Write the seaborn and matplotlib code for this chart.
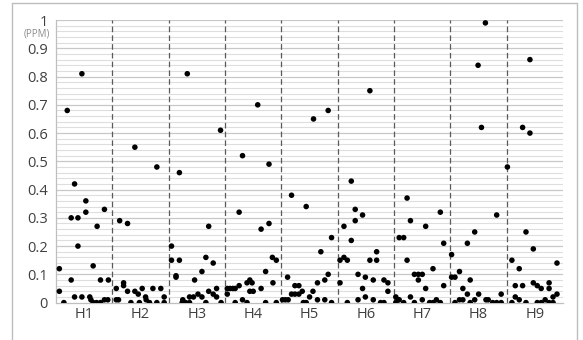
import matplotlib
matplotlib.use("Agg")
import matplotlib.pyplot as plt
from matplotlib.lines import Line2D
import numpy as np
import pandas as pd
import seaborn as sns

# Sites and their measured concentrations (ppm); each pair is
# (sample position within the site's band, value)
groups = ["H1", "H2", "H3", "H4", "H5", "H6", "H7", "H8", "H9"]

h1 = [(0.06, 0.12), (0.06, 0.04), (0.14, 0.0), (0.20, 0.68), (0.27, 0.30), (0.27, 0.08),
      (0.33, 0.42), (0.33, 0.02), (0.39, 0.30), (0.39, 0.20), (0.46, 0.81), (0.46, 0.02),
      (0.53, 0.36), (0.53, 0.32), (0.60, 0.02), (0.62, 0.01), (0.66, 0.13), (0.66, 0.0),
      (0.72, 0.0), (0.73, 0.27), (0.79, 0.0), (0.79, 0.08), (0.86, 0.33), (0.86, 0.01),
      (0.92, 0.01), (0.93, 0.08)]
h2 = [(0.07, 0.05), (0.07, 0.01), (0.11, 0.01), (0.13, 0.29), (0.20, 0.07), (0.20, 0.06),
      (0.27, 0.28), (0.27, 0.04), (0.33, 0.0), (0.40, 0.55), (0.40, 0.04), (0.46, 0.03),
      (0.48, 0.0), (0.53, 0.05), (0.59, 0.02), (0.60, 0.01), (0.66, 0.0), (0.72, 0.05),
      (0.79, 0.48), (0.79, 0.0), (0.86, 0.05), (0.92, 0.02), (0.92, 0.0)]
h3 = [(0.05, 0.20), (0.05, 0.15), (0.13, 0.095), (0.13, 0.09), (0.19, 0.46), (0.19, 0.15),
      (0.24, 0.0), (0.25, 0.01), (0.30, 0.0), (0.33, 0.81), (0.37, 0.02), (0.37, 0.0),
      (0.44, 0.02), (0.46, 0.08), (0.52, 0.03), (0.59, 0.02), (0.59, 0.11), (0.66, 0.16),
      (0.66, 0.0), (0.71, 0.27), (0.71, 0.04), (0.79, 0.14), (0.79, 0.03), (0.85, 0.05),
      (0.85, 0.02), (0.92, 0.61), (0.93, 0.0)]
h4 = [(0.04, 0.05), (0.04, 0.03), (0.09, 0.05), (0.14, 0.05), (0.18, 0.05), (0.18, 0.0),
      (0.25, 0.32), (0.25, 0.06), (0.31, 0.52), (0.31, 0.01), (0.39, 0.07), (0.39, 0.0),
      (0.44, 0.08), (0.44, 0.04), (0.48, 0.07), (0.50, 0.04), (0.58, 0.70), (0.64, 0.26),
      (0.64, 0.05), (0.72, 0.11), (0.72, 0.0), (0.78, 0.49), (0.78, 0.28), (0.84, 0.16),
      (0.85, 0.07), (0.91, 0.15), (0.91, 0.0)]
h5 = [(0.02, 0.01), (0.07, 0.01), (0.11, 0.09), (0.12, 0.01), (0.18, 0.38), (0.18, 0.03),
      (0.24, 0.06), (0.24, 0.03), (0.31, 0.06), (0.31, 0.03), (0.37, 0.04), (0.39, 0.0),
      (0.44, 0.34), (0.44, 0.0), (0.50, 0.02), (0.56, 0.04), (0.57, 0.65), (0.64, 0.07),
      (0.64, 0.01), (0.70, 0.18), (0.77, 0.08), (0.77, 0.01), (0.83, 0.68), (0.83, 0.10),
      (0.89, 0.23), (0.89, 0.0)]
h6 = [(0.04, 0.15), (0.04, 0.07), (0.11, 0.27), (0.11, 0.16), (0.17, 0.15), (0.17, 0.0),
      (0.24, 0.43), (0.24, 0.22), (0.31, 0.33), (0.31, 0.29), (0.36, 0.10), (0.36, 0.01),
      (0.44, 0.31), (0.44, 0.05), (0.49, 0.09), (0.49, 0.02), (0.57, 0.75), (0.57, 0.15),
      (0.63, 0.08), (0.63, 0.01), (0.69, 0.18), (0.69, 0.15), (0.76, 0.0), (0.82, 0.08),
      (0.82, 0.0), (0.89, 0.07), (0.89, 0.04)]
h7 = [(0.03, 0.02), (0.03, 0.0), (0.07, 0.01), (0.09, 0.23), (0.09, 0.01), (0.17, 0.23),
      (0.17, 0.0), (0.23, 0.37), (0.23, 0.15), (0.29, 0.29), (0.29, 0.02), (0.36, 0.10),
      (0.36, 0.0), (0.43, 0.10), (0.43, 0.08), (0.50, 0.10), (0.50, 0.01), (0.56, 0.27),
      (0.56, 0.05), (0.63, 0.0), (0.69, 0.12), (0.69, 0.0), (0.75, 0.01), (0.82, 0.32),
      (0.82, 0.0), (0.88, 0.21), (0.88, 0.06)]
h8 = [(0.02, 0.17), (0.02, 0.09), (0.08, 0.09), (0.08, 0.0), (0.16, 0.11), (0.16, 0.01),
      (0.22, 0.05), (0.22, 0.01), (0.30, 0.21), (0.30, 0.03), (0.35, 0.08), (0.35, 0.0),
      (0.43, 0.25), (0.43, 0.01), (0.49, 0.84), (0.50, 0.03), (0.55, 0.62), (0.62, 0.99),
      (0.63, 0.01), (0.67, 0.01), (0.75, 0.0), (0.82, 0.31), (0.82, 0.0), (0.90, 0.03),
      (0.90, 0.0)]
h9 = [(0.01, 0.48), (0.09, 0.15), (0.09, 0.0), (0.15, 0.06), (0.15, 0.02), (0.22, 0.12),
      (0.22, 0.01), (0.28, 0.62), (0.28, 0.06), (0.34, 0.25), (0.34, 0.0), (0.41, 0.86),
      (0.41, 0.60), (0.47, 0.19), (0.47, 0.07), (0.54, 0.06), (0.54, 0.0), (0.61, 0.05),
      (0.61, 0.0), (0.68, 0.01), (0.75, 0.07), (0.75, 0.05), (0.75, 0.0), (0.82, 0.02),
      (0.82, 0.0), (0.89, 0.14), (0.89, 0.03)]

site_samples = [h1, h2, h3, h4, h5, h6, h7, h8, h9]
y_ticks = [0, 0.1, 0.2, 0.3, 0.4, 0.5, 0.6, 0.7, 0.8, 0.9, 1]
unit_label = "(PPM)"

rows = []
for gi, (name, samples) in enumerate(zip(groups, site_samples)):
    for pos, val in samples:
        rows.append({"site": name, "x": gi + pos, "ppm": val})
df = pd.DataFrame(rows)

sns.set_theme(style="white")
plt.rcParams["font.family"] = ["Open Sans", "DejaVu Sans"]

fig = plt.figure(figsize=(5.83, 3.40), dpi=100)
ax = fig.add_axes([0.096, 0.110, 0.870, 0.831])

# fine horizontal grid every 0.02, slightly stronger every 0.1
for v in np.arange(0.02, 1.001, 0.02):
    major = abs(v * 10 - round(v * 10)) < 1e-6
    ax.axhline(v, color="#c8c8c8" if major else "#dedede",
               lw=0.9 if major else 0.8, zorder=0)

# dashed separators between sites
for b in range(1, len(groups)):
    ax.axvline(b, color="#5a5a5a", lw=0.9, ls=(0, (4.5, 2.5)), zorder=1)

sns.scatterplot(data=df, x="x", y="ppm", color="black", s=16,
                edgecolor="none", legend=False, ax=ax, zorder=3)

ax.set_xlim(0, len(groups))
ax.set_ylim(0, 1)
ax.set_xticks([i + 0.5 for i in range(len(groups))])
ax.set_xticklabels(groups)
ax.set_yticks(y_ticks)
ax.set_yticklabels([f"{t:g}" for t in y_ticks])
ax.tick_params(axis="both", length=0, labelsize=10.5, colors="#404040")
ax.tick_params(axis="y", pad=6)
ax.tick_params(axis="x", pad=3)
ax.set_xlabel("")
ax.set_ylabel("")

for side in ["top", "right"]:
    ax.spines[side].set_visible(False)
for side in ["left", "bottom"]:
    ax.spines[side].set_color("#bfbfbf")
    ax.spines[side].set_linewidth(0.9)

ax.text(-0.012, 0.952, unit_label, transform=ax.transAxes, ha="right",
        va="center", fontsize=7, color="#8c8c8c")

# chart frame
W, H = 583, 340
frame_kw = dict(color="#bdbdbd", lw=1.0, transform=fig.transFigure)
fig.add_artist(Line2D([12 / W, 12 / W], [0, 1 - 3 / H], **frame_kw))
fig.add_artist(Line2D([12 / W, 577 / W], [1 - 3 / H, 1 - 3 / H], **frame_kw))
fig.add_artist(Line2D([577 / W, 577 / W], [0, 1 - 3 / H], **frame_kw))

fig.savefig("out.png", dpi=100)
